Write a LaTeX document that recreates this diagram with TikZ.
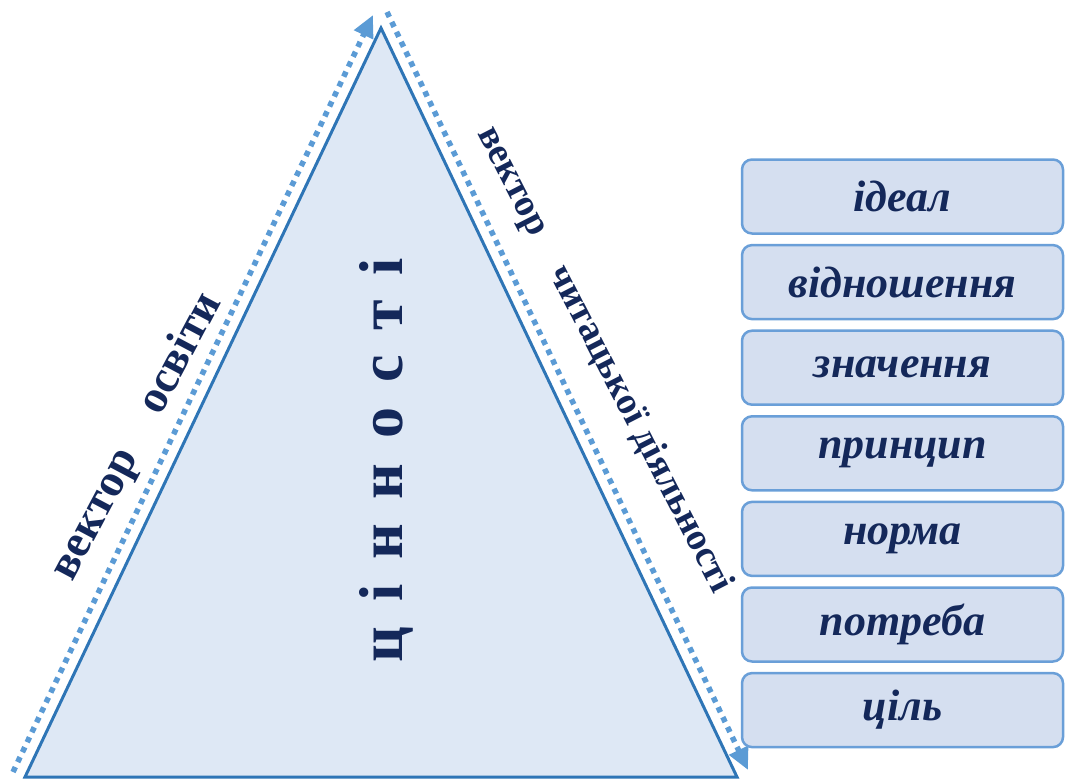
\documentclass[tikz,border=0pt]{standalone}
\usepackage{fontspec}
\setmainfont{Liberation Serif}
\newfontfamily\spacedfont[LetterSpace=40]{Liberation Serif}
\usetikzlibrary{arrows.meta}
\definecolor{edgeblue}{HTML}{2E75B6}
\definecolor{dotblue}{HTML}{5B9BD5}
\definecolor{trifill}{HTML}{DEE8F5}
\definecolor{boxfill}{HTML}{D5DFF0}
\definecolor{boxline}{HTML}{6A9FD8}
\definecolor{inkblue}{HTML}{14285A}
\begin{document}
\begin{tikzpicture}[x=1pt, y=-1pt,
  vec/.style={line width=5.5pt, dotblue, dash pattern=on 5.5pt off 5.5pt},
  valbox/.style={draw=boxline, line width=2.5pt, fill=boxfill, rounded corners=10pt,
    minimum width=321pt, minimum height=74pt, text=inkblue,
    font=\fontsize{44}{48}\selectfont\bfseries\itshape},
  side/.style={text=inkblue, font=\fontsize{46}{50}\selectfont\bfseries}]
  \useasboundingbox (0,0) rectangle (1066,780);
  \coordinate (top) at (381,28);
  \coordinate (bl) at (25,777);
  \coordinate (br) at (737,777);
  \fill[trifill] (top) -- (bl) -- (br) -- cycle;
  \draw[edgeblue, line width=3pt] (top) -- (bl) -- (br) -- cycle;
  \coordinate (l0) at (13,772);
  \coordinate (l1) at (373,15);
  \coordinate (r0) at (387,12);
  \coordinate (r1) at (748,770);
  \draw[vec, -{Triangle[length=22pt,width=20pt]}] (l0) -- (l1);
  \draw[vec, -{Triangle[length=22pt,width=20pt]}] (r0) -- (r1);
  \node[text=inkblue, rotate=90, font=\spacedfont\fontsize{62}{66}\selectfont\bfseries]
    (values) at (386,460) {цінності};
  \node[side, rotate=62] (edu) at (137,437) {вектор\quad освіти};
  \node[side, rotate=-62.8, font=\fontsize{38}{42}\selectfont\bfseries]
    (read) at (604,360) {вектор\quad читацької діяльності};
  \foreach \t [count=\i] in {ідеал, відношення, значення, принцип, норма, потреба, ціль}
    \node[valbox] (v\i) at (902.5, {196.5+85.6*(\i-1)}) {\t};
\end{tikzpicture}
\end{document}
